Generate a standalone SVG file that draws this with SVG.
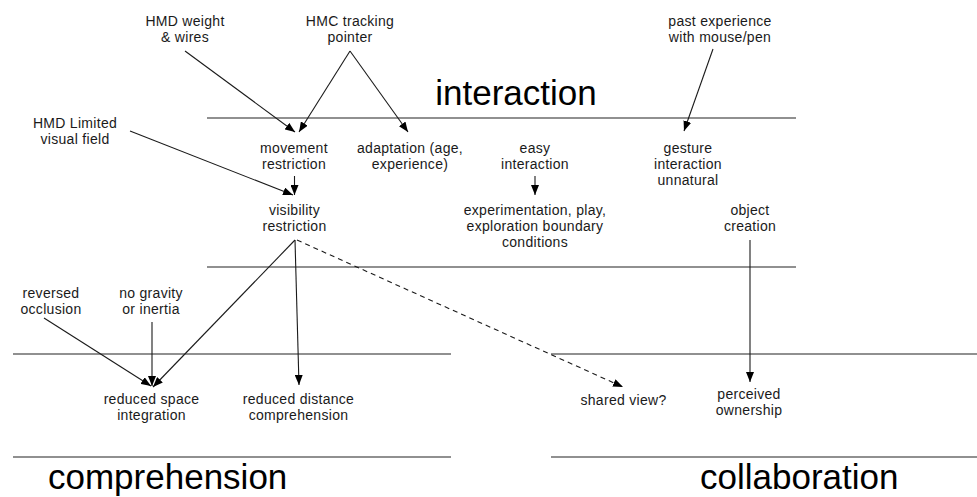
<svg xmlns="http://www.w3.org/2000/svg" width="977" height="497" viewBox="0 0 977 497">
<style>
.bg{fill:#fff}
.sep{stroke:#222;stroke-width:1.2;fill:none}
.t{font-family:"Liberation Sans",Arial,sans-serif;font-size:14px;letter-spacing:0.3px;fill:#1a1a1a;text-anchor:middle}
.title{font-family:"Liberation Sans",Arial,sans-serif;font-size:35px;fill:#000}
.c{stroke:#1a1a1a;stroke-width:1.1;fill:none;marker-end:url(#ah)}
.d{stroke-dasharray:5,4}
</style>
<defs>
<marker id="ah" markerUnits="userSpaceOnUse" markerWidth="11" markerHeight="8" refX="10" refY="4" orient="auto">
<path d="M0,0 L10,4 L0,8 z" fill="#000"/>
</marker>
</defs>
<rect class="bg" width="977" height="497"/>
<g id="separators">
<line class="sep" x1="207" y1="118" x2="796" y2="118"/>
<line class="sep" x1="207" y1="267" x2="796" y2="267"/>
<line class="sep" x1="13" y1="354" x2="451" y2="354"/>
<line class="sep" x1="13" y1="457" x2="451" y2="457"/>
<line class="sep" x1="551" y1="354" x2="977" y2="354"/>
<line class="sep" x1="551" y1="457" x2="977" y2="457"/>
</g>
<g id="titles">
<text class="title" x="516" y="105" text-anchor="middle">interaction</text>
<text class="title" x="48" y="489">comprehension</text>
<text class="title" x="700" y="489">collaboration</text>
</g>
<g id="connectors">
<line class="c" x1="185" y1="51" x2="295" y2="132"/>
<line class="c" x1="350" y1="51" x2="299" y2="132"/>
<line class="c" x1="350" y1="51" x2="408" y2="132"/>
<line class="c" x1="130" y1="131" x2="293" y2="195"/>
<line class="c" x1="294.5" y1="176" x2="294.5" y2="195"/>
<line class="c" x1="535" y1="176" x2="535" y2="195"/>
<line class="c" x1="713" y1="49" x2="684" y2="131"/>
<line class="c" x1="295" y1="240" x2="153" y2="387"/>
<line class="c" x1="295" y1="240" x2="299" y2="385"/>
<line class="c d" x1="297" y1="240" x2="623" y2="387"/>
<line class="c" x1="44" y1="318" x2="151" y2="386"/>
<line class="c" x1="152" y1="322" x2="152" y2="386"/>
<line class="c" x1="750" y1="240" x2="750" y2="382"/>
</g>
<g id="hmd-weight"><text class="t" x="185" y="26">HMD weight</text><text class="t" x="185" y="42">&amp; wires</text></g>
<g id="hmc-tracking"><text class="t" x="350" y="26">HMC tracking</text><text class="t" x="350" y="42">pointer</text></g>
<g id="hmd-limited"><text class="t" x="75" y="128">HMD Limited</text><text class="t" x="75" y="144">visual field</text></g>
<g id="past-experience"><text class="t" x="720" y="26">past experience</text><text class="t" x="720" y="42">with mouse/pen</text></g>
<g id="movement-restriction"><text class="t" x="294" y="153">movement</text><text class="t" x="294" y="169">restriction</text></g>
<g id="adaptation"><text class="t" x="410" y="153">adaptation (age,</text><text class="t" x="410" y="169">experience)</text></g>
<g id="easy-interaction"><text class="t" x="535" y="153">easy</text><text class="t" x="535" y="169">interaction</text></g>
<g id="gesture-interaction"><text class="t" x="688" y="153">gesture</text><text class="t" x="688" y="169">interaction</text><text class="t" x="688" y="185">unnatural</text></g>
<g id="visibility-restriction"><text class="t" x="294.5" y="215">visibility</text><text class="t" x="294.5" y="231">restriction</text></g>
<g id="experimentation"><text class="t" x="535" y="215">experimentation, play,</text><text class="t" x="535" y="231">exploration boundary</text><text class="t" x="535" y="247">conditions</text></g>
<g id="object-creation"><text class="t" x="750" y="215">object</text><text class="t" x="750" y="231">creation</text></g>
<g id="reversed-occlusion"><text class="t" x="51" y="298">reversed</text><text class="t" x="51" y="314">occlusion</text></g>
<g id="no-gravity"><text class="t" x="151" y="298">no gravity</text><text class="t" x="151" y="314">or inertia</text></g>
<g id="reduced-space"><text class="t" x="151.5" y="404">reduced space</text><text class="t" x="151.5" y="420">integration</text></g>
<g id="reduced-distance"><text class="t" x="298.5" y="404">reduced distance</text><text class="t" x="298.5" y="420">comprehension</text></g>
<g id="shared-view"><text class="t" x="623.5" y="405">shared view?</text></g>
<g id="perceived-ownership"><text class="t" x="749" y="399">perceived</text><text class="t" x="749" y="415">ownership</text></g>
</svg>
